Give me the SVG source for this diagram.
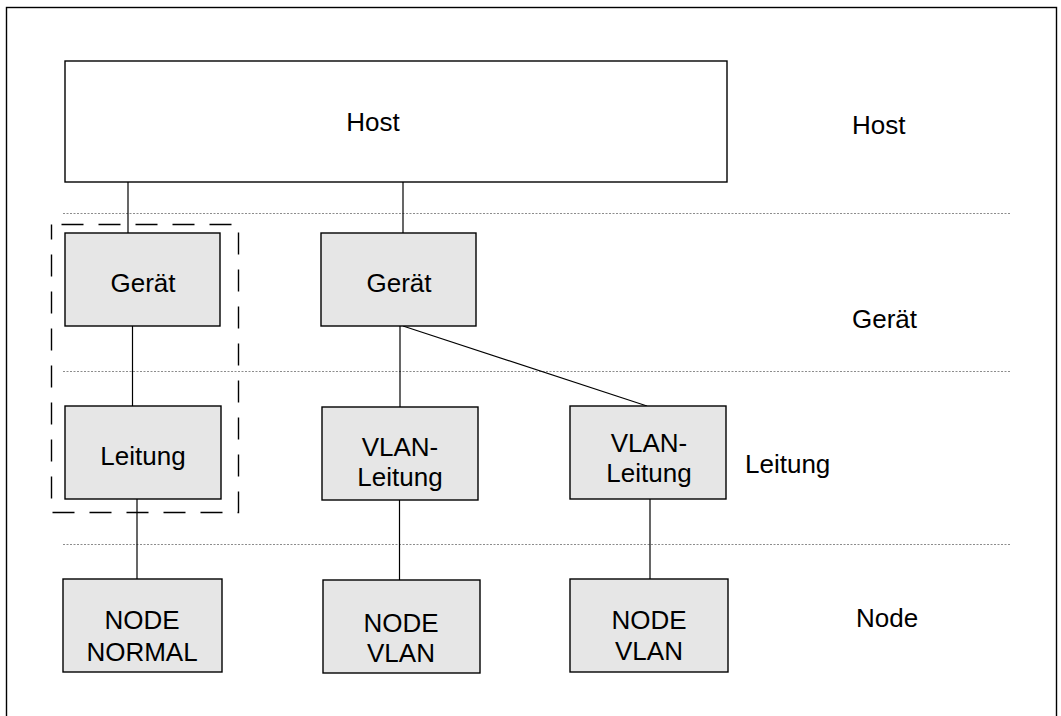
<svg xmlns="http://www.w3.org/2000/svg" width="1061" height="716" viewBox="0 0 1061 716">
<style>
.box{fill:#e6e6e6;stroke:#000;stroke-width:1.4}
.host{fill:#fff;stroke:#000;stroke-width:1.4}
.t{font-family:"Liberation Sans",Arial,sans-serif;font-size:26px;fill:#000}
.c{text-anchor:middle}
.sep{stroke:#8c8c8c;stroke-width:1;stroke-dasharray:2,1.5}
.con line{stroke:#000;stroke-width:1.2}
</style>
<rect width="1061" height="716" fill="#fff"/>
<rect x="6.5" y="7.5" width="1050" height="730" fill="none" stroke="#000" stroke-width="1.4"/>
<g id="separators">
<line class="sep" x1="63" y1="213.5" x2="1010" y2="213.5"/>
<line class="sep" x1="63" y1="371.5" x2="1010" y2="371.5"/>
<line class="sep" x1="63" y1="544.5" x2="1010" y2="544.5"/>
</g>
<rect id="group-frame" x="51.5" y="224.5" width="187" height="288" fill="none" stroke="#000" stroke-width="1.4" stroke-dasharray="22,15" stroke-dashoffset="-10"/>
<g class="con" id="connectors">
<line x1="128" y1="182" x2="128" y2="233"/>
<line x1="132.5" y1="326" x2="132.5" y2="406"/>
<line x1="137" y1="499" x2="137" y2="579"/>
<line x1="403" y1="182" x2="403" y2="233"/>
<line x1="400" y1="326" x2="400" y2="407"/>
<line x1="403" y1="326" x2="647" y2="406"/>
<line x1="399.5" y1="500" x2="399.5" y2="580"/>
<line x1="650" y1="499" x2="650" y2="579"/>
</g>
<g id="host">
<rect class="host" x="65" y="61" width="662" height="121"/>
<text class="t c" x="373" y="131">Host</text>
</g>
<g id="geraet-left">
<rect class="box" x="65" y="233" width="155" height="93"/>
<text class="t c" x="143" y="291.5">Gerät</text>
</g>
<g id="leitung-left">
<rect class="box" x="65" y="406" width="156" height="93"/>
<text class="t c" x="143" y="465">Leitung</text>
</g>
<g id="geraet-mid">
<rect class="box" x="321" y="233" width="155" height="93"/>
<text class="t c" x="399" y="291.5">Gerät</text>
</g>
<g id="vlan-leitung-mid">
<rect class="box" x="322" y="407" width="156" height="93"/>
<text class="t c" x="400" y="456">VLAN-</text>
<text class="t c" x="400" y="486">Leitung</text>
</g>
<g id="vlan-leitung-right">
<rect class="box" x="570" y="406" width="156" height="93"/>
<text class="t c" x="649" y="452">VLAN-</text>
<text class="t c" x="649" y="482">Leitung</text>
</g>
<g id="node-normal">
<rect class="box" x="63" y="579" width="159" height="93"/>
<text class="t c" x="142" y="629">NODE</text>
<text class="t c" x="142" y="661">NORMAL</text>
</g>
<g id="node-vlan-mid">
<rect class="box" x="323" y="580" width="157" height="93"/>
<text class="t c" x="401" y="631.5">NODE</text>
<text class="t c" x="401" y="661.5">VLAN</text>
</g>
<g id="node-vlan-right">
<rect class="box" x="570" y="579" width="158" height="93"/>
<text class="t c" x="649" y="628.5">NODE</text>
<text class="t c" x="649" y="660">VLAN</text>
</g>
<g id="layer-labels">
<text class="t" x="852" y="134">Host</text>
<text class="t" x="852" y="328">Gerät</text>
<text class="t" x="745" y="473">Leitung</text>
<text class="t" x="856" y="627">Node</text>
</g>
</svg>
